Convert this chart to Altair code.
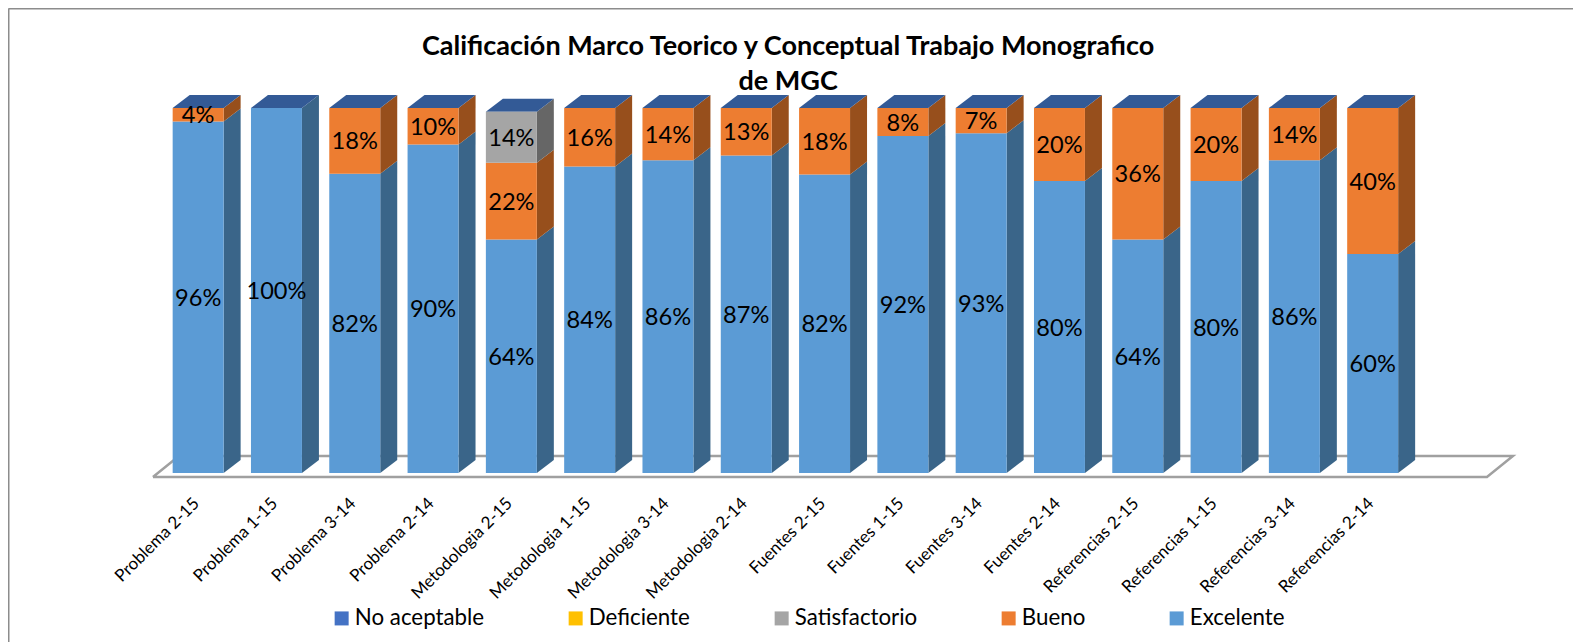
import altair as alt
import pandas as pd

CATEGORIES = ["Problema 2-15", "Problema 1-15", "Problema 3-14", "Problema 2-14",
              "Metodologia 2-15", "Metodologia 1-15", "Metodologia  3-14", "Metodologia 2-14",
              "Fuentes 2-15", "Fuentes 1-15", "Fuentes  3-14", "Fuentes 2-14",
              "Referencias 2-15", "Referencias 1-15", "Referencias  3-14", "Referencias 2-14"]
EXCELENTE = [96.3, 100, 82, 90, 64, 84, 85.7, 87, 81.8, 92.3, 93.1, 80, 64, 80, 85.7, 60]
BUENO = [3.7, 0, 18, 10, 21, 16, 14.3, 13, 18.2, 7.7, 6.9, 20, 36, 20, 14.3, 40]
SATISFACTORIO = [0, 0, 0, 0, 14, 0, 0, 0, 0, 0, 0, 0, 0, 0, 0, 0]
LABEL_EXC = ["96%", "100%", "82%", "90%", "64%", "84%", "86%", "87%", "82%", "92%", "93%", "80%", "64%", "80%", "86%", "60%"]
LABEL_BUE = ["4%", "", "18%", "10%", "22%", "16%", "14%", "13%", "18%", "8%", "7%", "20%", "36%", "20%", "14%", "40%"]
LABEL_SAT = ["", "", "", "", "14%", "", "", "", "", "", "", "", "", "", "", ""]
SERIES = ["No aceptable", "Deficiente", "Satisfactorio", "Bueno", "Excelente"]
FRONT = ["#4472c4", "#ffc000", "#a5a5a5", "#ed7d31", "#5b9bd5"]
SIDE = ["#2f5597", "#bf9000", "#666666", "#974f1c", "#3a6589"]
TITLE = ["Calificación Marco Teorico y Conceptual Trabajo Monografico", "de MGC"]

BAR, DEPTH_X, DEPTH_Y = 0.651, 0.217, 3.56
xs = alt.Scale(domain=[-2.103, 17.884], nice=False, zero=False)
ys = alt.Scale(domain=[-46.3, 127.4], nice=False, zero=False)

fronts, sides, tops, texts = [], [], [], []
for i, cat in enumerate(CATEGORIES):
    base = 0
    for name, vals, labs in (("Excelente", EXCELENTE, LABEL_EXC), ("Bueno", BUENO, LABEL_BUE),
                             ("Satisfactorio", SATISFACTORIO, LABEL_SAT)):
        v = vals[i]
        if v <= 0:
            continue
        fronts.append(dict(x=i, x2=i + BAR, y=base, y2=base + v, s=name))
        sides.append(dict(k=f"{i}{name}", x=i + BAR, y=base, y2=base + v, s=name))
        sides.append(dict(k=f"{i}{name}", x=i + BAR + DEPTH_X, y=base + DEPTH_Y, y2=base + v + DEPTH_Y, s=name))
        if labs[i]:
            texts.append(dict(x=i + BAR / 2, y=base + v / 2, t=labs[i]))
        base += v
    tops.append(dict(k=i, x=i, x2=i + BAR, y=base))
    tops.append(dict(k=i, x=i + DEPTH_X, x2=i + BAR + DEPTH_X, y=base + DEPTH_Y))

floor = pd.DataFrame(dict(o=[0, 1, 2, 3, 4],
                          x=[-0.252, 16.785, 17.117, 0.08, -0.252],
                          y=[-1.1, -1.1, 4.66, 4.66, -1.1]))
cat_df = pd.DataFrame(dict(x=[i + BAR / 2 - 0.02 for i in range(len(CATEGORIES))], y=-7.67, t=CATEGORIES))
title_df = pd.DataFrame(dict(x=[7.86, 7.86], y=[116.7, 107.0], t=TITLE))

frame_x = alt.Axis(orient="top", labels=False, ticks=False, grid=False, title=None,
                   domainColor="#8c8c8c", domainWidth=2)
frame_y = alt.Axis(orient="left", labels=False, ticks=False, grid=False, title=None,
                   domainColor="#8c8c8c", domainWidth=2)

floor_l = alt.Chart(floor).mark_line(color="#a0a0a0", strokeWidth=2.5, strokeJoin="miter").encode(
    x=alt.X("x:Q", scale=xs, axis=frame_x),
    y=alt.Y("y:Q", scale=ys, axis=frame_y),
    order="o:Q")

side_l = alt.Chart(pd.DataFrame(sides)).mark_area(orient="vertical", opacity=1).encode(
    x=alt.X("x:Q", scale=xs, axis=frame_x),
    y=alt.Y("y:Q", scale=ys, axis=frame_y, stack=None),
    y2="y2:Q",
    detail="k:N",
    color=alt.Color("s:N", scale=alt.Scale(domain=SERIES, range=SIDE), legend=None))

top_l = alt.Chart(pd.DataFrame(tops)).mark_area(orient="horizontal", color="#335a96", opacity=1).encode(
    x=alt.X("x:Q", scale=xs, axis=frame_x, stack=None),
    x2="x2:Q",
    y=alt.Y("y:Q", scale=ys, axis=frame_y),
    detail="k:N")

front_l = alt.Chart(pd.DataFrame(fronts)).mark_rect().encode(
    x=alt.X("x:Q", scale=xs, axis=frame_x),
    x2="x2:Q",
    y=alt.Y("y:Q", scale=ys, axis=frame_y),
    y2="y2:Q",
    color=alt.Color("s:N", scale=alt.Scale(domain=SERIES, range=FRONT), sort=SERIES,
                    legend=alt.Legend(title=None, orient="none", legendX=322.5, legendY=599,
                                      direction="horizontal", columns=5, gridAlign="each",
                                      columnPadding=80, symbolType="square", symbolSize=196,
                                      symbolStrokeWidth=0, labelOffset=2,
                                      labelFont="Lato", labelFontSize=22.3, labelColor="#000000",
                                      labelLimit=300)))

val_l = alt.Chart(pd.DataFrame(texts)).mark_text(font="Lato", fontSize=23.6, color="#000000",
                                                 baseline="middle", dy=1.5).encode(
    x=alt.X("x:Q", scale=xs, axis=frame_x), y=alt.Y("y:Q", scale=ys, axis=frame_y), text="t:N")

cat_l = alt.Chart(cat_df).mark_text(font="Lato", fontSize=17, color="#000000", angle=315,
                                    align="right", baseline="middle").encode(
    x=alt.X("x:Q", scale=xs, axis=frame_x), y=alt.Y("y:Q", scale=ys, axis=frame_y), text="t:N")

title_l = alt.Chart(title_df).mark_text(font="Lato", fontSize=27, fontWeight="bold", color="#000000",
                                        baseline="middle").encode(
    x=alt.X("x:Q", scale=xs, axis=frame_x), y=alt.Y("y:Q", scale=ys, axis=frame_y), text="t:N")

chart = alt.layer(floor_l, side_l, top_l, front_l, val_l, cat_l, title_l).resolve_scale(
    color="independent"
).properties(
    width=1565, height=634, padding=0,
    autosize=alt.AutoSizeParams(type="none"),
    background="#ffffff"
).configure_view(stroke=None)

chart.save("out.html", embed_options={"renderer": "svg", "actions": False})
